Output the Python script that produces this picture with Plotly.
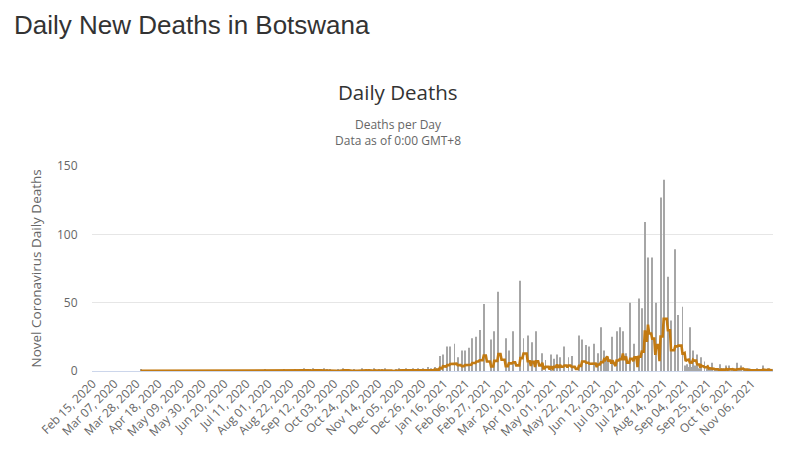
import pandas as pd
import plotly.graph_objects as go

# daily deaths, one row per 21-day tick interval (first day of each row = tick date)
start_date = "2020-02-15"
daily_deaths = [
    0, 0, 0, 0, 0, 0, 0, 0, 0, 0, 0, 0, 0, 0, 0, 0, 0, 0, 0, 0, 0,          # Feb 15, 2020
    0, 0, 0, 0, 0, 0, 0, 0, 0, 0, 0, 0, 0, 0, 0, 0, 0, 0, 0, 0, 0,          # Mar 07
    0, 0, 0, 0, 1, 0, 0, 0, 0, 0, 0, 0, 0, 0, 0, 0, 0, 0, 0, 0, 0,          # Mar 28
    0, 0, 0, 0, 0, 0, 0, 0, 0, 0, 0, 0, 0, 0, 0, 0, 0, 0, 0, 0, 0,          # Apr 18
    0, 0, 0, 0, 0, 0, 0, 0, 0, 0, 0, 0, 0, 0, 0, 0, 0, 0, 0, 0, 0,          # May 09
    0, 0, 0, 0, 0, 0, 0, 0, 0, 0, 0, 0, 0, 0, 0, 0, 0, 0, 0, 0, 0,          # May 30
    0, 0, 0, 0, 0, 0, 0, 0, 0, 0, 0, 0, 0, 0, 0, 0, 0, 0, 0, 0, 0,          # Jun 20
    0, 0, 0, 0, 0, 0, 0, 0, 0, 0, 0, 0, 0, 0, 0, 0, 0, 0, 1, 0, 0,          # Jul 11
    0, 0, 0, 0, 0, 0, 0, 0, 0, 0, 0, 0, 0, 0, 0, 1, 0, 0, 0, 0, 0,          # Aug 01
    0, 0, 0, 0, 0, 1, 0, 0, 0, 1, 0, 0, 0, 2, 0, 0, 1, 0, 0, 1, 0,          # Aug 22
    0, 2, 0, 0, 1, 0, 0, 0, 1, 0, 0, 2, 0, 0, 1, 0, 0, 1, 0, 0, 0,          # Sep 12
    0, 0, 0, 0, 1, 0, 0, 0, 2, 0, 0, 0, 0, 1, 0, 0, 0, 0, 0, 1, 0,          # Oct 03
    0, 0, 0, 0, 0, 0, 2, 0, 0, 1, 0, 0, 1, 0, 0, 0, 0, 2, 0, 0, 0,          # Oct 24
    0, 1, 0, 0, 1, 0, 0, 2, 0, 0, 0, 0, 0, 0, 0, 0, 0, 1, 0, 0, 2,          # Nov 14
    0, 0, 1, 0, 0, 0, 2, 0, 0, 1, 0, 0, 2, 0, 1, 0, 0, 2, 0, 1, 0,          # Dec 05
    0, 2, 0, 1, 0, 0, 3, 0, 0, 2, 0, 0, 3, 0, 2, 0, 0, 11, 0, 0, 12,        # Dec 26
    0, 0, 0, 18, 0, 0, 18, 0, 0, 0, 20, 0, 0, 10, 0, 0, 0, 15, 0, 0, 15,    # Jan 16, 2021
    0, 0, 0, 17, 0, 0, 24, 0, 0, 0, 25, 0, 0, 30, 0, 0, 0, 49, 0, 0, 0,     # Feb 06
    0, 0, 0, 23, 0, 0, 29, 0, 0, 0, 58, 0, 0, 0, 0, 0, 0, 24, 0, 0, 15,     # Feb 27
    0, 0, 0, 29, 0, 0, 0, 0, 0, 0, 66, 0, 0, 24, 0, 0, 0, 26, 0, 0, 0,      # Mar 20
    21, 0, 0, 0, 29, 0, 0, 0, 0, 0, 13, 0, 0, 8, 0, 0, 0, 0, 12, 0, 0,      # Apr 10
    9, 0, 0, 12, 0, 0, 10, 0, 0, 0, 18, 0, 0, 0, 10, 0, 0, 11, 0, 0, 0,     # May 01
    0, 0, 0, 26, 0, 0, 23, 0, 0, 0, 19, 0, 0, 18, 0, 0, 0, 20, 0, 0, 0,     # May 22
    13, 0, 0, 32, 0, 0, 15, 9, 10, 9, 10, 0, 0, 0, 25, 0, 0, 0, 29, 0, 0,   # Jun 12
    32, 0, 0, 29, 0, 0, 13, 0, 0, 0, 50, 0, 0, 0, 20, 0, 0, 0, 53, 0, 0,    # Jul 03
    46, 0, 0, 109, 0, 0, 83, 0, 0, 0, 83, 0, 0, 0, 50, 0, 0, 0, 127, 0, 0,  # Jul 24
    140, 0, 0, 0, 69, 0, 0, 37, 0, 0, 0, 89, 0, 0, 41, 0, 0, 0, 47, 0, 4,   # Aug 14
    0, 5, 3, 0, 32, 0, 3, 15, 0, 4, 0, 12, 0, 2, 0, 10, 0, 0, 7, 0, 2,      # Sep 04
    4, 0, 1, 0, 6, 0, 0, 2, 0, 1, 0, 0, 5, 0, 0, 2, 0, 0, 4, 0, 4,          # Sep 25
    0, 0, 2, 0, 1, 0, 0, 6, 0, 2, 0, 4, 0, 0, 2, 0, 1, 0, 0, 2, 0,          # Oct 16
    0, 0, 1, 0, 0, 2, 0, 1, 0, 0, 0, 4, 0, 0, 1, 0, 2, 0, 0, 1, 1,          # Nov 06
]

y_ticks = [0, 50, 100, 150]

dates = pd.date_range(start_date, periods=len(daily_deaths), freq="D")
deaths = pd.Series(daily_deaths, index=dates)
# 7-day moving average, drawn from the first reported death on
avg7 = deaths.rolling(7, min_periods=1).mean()
avg7 = avg7.where(avg7.index >= deaths.ne(0).idxmax())

fig = go.Figure()
fig.add_trace(go.Bar(x=dates, y=deaths, name="Daily Deaths",
                     marker=dict(color="#a6a6a6", line=dict(width=0))))
fig.add_trace(go.Scatter(x=dates, y=avg7, name="7-day moving average", mode="lines",
                         line=dict(color="#c27a12", width=2.6)))

half_day = pd.Timedelta(hours=12)
fig.update_xaxes(type="date", range=[dates[0] - half_day, dates[-1] + half_day],
                 tick0=start_date, dtick=21 * 86400000, tickformat="%b %d, %Y",
                 tickangle=-45, showgrid=False, showline=True, linecolor="#ccd6eb",
                 ticks="", tickfont=dict(family="Open Sans", size=12, color="#666666"))
fig.update_yaxes(range=[0, 150], tickvals=y_ticks, showgrid=True, gridcolor="#e6e6e6",
                 zeroline=False, showline=False, ticks="outside", ticklen=11,
                 tickcolor="rgba(0,0,0,0)",
                 tickfont=dict(family="Open Sans", size=12, color="#666666"))

ann = [
    dict(text="Daily New Deaths in Botswana", x=-0.1175, y=1.688, xanchor="left",
         font=dict(family="Liberation Sans", size=26, color="#333333")),
    dict(text="Daily Deaths", x=0.449, y=1.361, xanchor="center",
         font=dict(family="Open Sans", size=20.5, color="#333333")),
    dict(text="Deaths per Day<br>Data as of 0:00 GMT+8", x=0.449, y=1.161, xanchor="center",
         font=dict(family="Open Sans", size=12, color="#666666")),
    dict(text="Novel Coronavirus Daily Deaths", x=-0.0837, y=0.5, textangle=-90,
         xanchor="center", font=dict(family="Open Sans", size=13.5, color="#666666")),
]
for a in ann:
    fig.add_annotation(xref="paper", yref="paper", yanchor="middle", showarrow=False, **a)

# the page body adds an 8px offset, so margins are set relative to that
fig.update_layout(width=789, height=462, margin=dict(l=84, r=24, t=158, b=99),
                  paper_bgcolor="white", plot_bgcolor="white", showlegend=False,
                  bargap=0.1, font=dict(family="Open Sans"))

fig.write_html("out.html")
